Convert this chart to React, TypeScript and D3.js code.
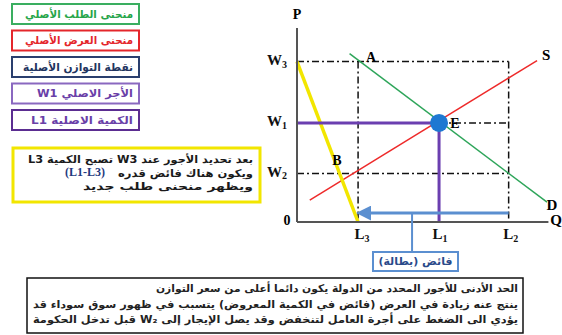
import React from "react";
import * as d3 from "d3";

// ---- data ----
const quantities = { L3: 2.15, L1: 5, L2: 7.45 };
const wages = { W3: 8.1, W1: 5, W2: 2.45 };
const demandPts: [number, number][] = [[1.85, 8.5], [8.8, 1.0]];
const supplyPts: [number, number][] = [[0.45, 1.1], [8.45, 8.15]];
const minWageLine: [number, number][] = [[0, 8.1], [2.15, 0]];
const surplusArrowY = 0.45;
const legendItems = [
  { text: "منحنى الطلب الأصلي", color: "#27a54a", border: "#3aae60", w: 108 },
  { text: "منحنى العرض الأصلي", color: "#e4262b", border: "#e4262b", w: 108 },
  { text: "نقطة التوازن الأصلية", color: "#1f3560", border: "#2a3f6e", w: 110 },
  { text: "الأجر الاصلي W1", color: "#6a3fa8", border: "#8a68c0", w: 96 },
  { text: "الكمية الاصلية L1", color: "#6a3fa8", border: "#5b2d91", w: 102 },
];
const noteLines = [
  "بعد تحديد الأجور عند W3 تصبح الكمية L3",
  "ويكون هناك فائض قدره",
  "ويظهر منحنى طلب جديد",
];
const noteWidths = [225, 135, 170];
const noteLatin = "(L1-L3)";
const bottomLines = [
  "الحد الأدنى للأجور المحدد من الدولة يكون دائما أعلى من سعر التوازن",
  "ينتج عنه زيادة في العرض (فائض في الكمية المعروض) يتسبب في ظهور سوق سوداء قد",
  "يؤدي الى الضغط على أجرة العامل لتنخفض وقد يصل الإيجار إلى W₂ قبل تدخل الحكومة",
];
const bottomWidths = [362, 485, 485];
const surplusLabel = "فائض (بطالة)";

const AR = "'DejaVu Sans', 'Noto Sans', sans-serif";
const SERIF = "'Liberation Serif', 'DejaVu Serif', serif";

export default function App() {
  const x = d3.scaleLinear().domain([0, 8.8]).range([297, 547]);
  const y = d3.scaleLinear().domain([0, 10.2]).range([222, 20]);
  const line = d3.line<[number, number]>().x((d) => x(d[0])).y((d) => y(d[1]));
  const x0 = x(0), y0 = y(0);
  const axisTop = y(9.8);
  const dash = "7,3,2,3";

  const Sub = ({ cx, cy, main, sub }: { cx: number; cy: number; main: string; sub: string }) => (
    <text x={cx} y={cy} fontFamily={SERIF} fontWeight="bold" fontSize={15} textAnchor="middle" dominantBaseline="middle" fill="#111">
      {main}
      <tspan fontSize={10} dy={4}>{sub}</tspan>
    </text>
  );

  return (
    <svg width={562} height={335} style={{ position: "absolute", left: 0, top: 0, background: "#fff" }}>
      <defs>
        <marker id="arrowhead" markerWidth="5" markerHeight="5" refX="1" refY="2.5" orient="auto-start-reverse" markerUnits="strokeWidth">
          <path d="M0,0 L5,2.5 L0,5 z" fill="#5b8fd0" />
        </marker>
      </defs>

      {/* legend boxes */}
      {legendItems.map((it, i) => {
        const top = 4 + i * 26.5;
        return (
          <g key={i}>
            <rect x={12} y={top} width={127} height={20} fill="#fff" stroke={it.border} strokeWidth={2} />
            <text x={133} y={top + 10.5} direction="rtl" textAnchor="start" dominantBaseline="middle" fontFamily={AR} fontWeight="bold" fontSize={11} fill={it.color} textLength={it.w} lengthAdjust="spacingAndGlyphs">
              {it.text}
            </text>
          </g>
        );
      })}

      {/* yellow note box */}
      <rect x={13} y={148} width={247} height={54} fill="#fff" stroke="#f2e600" strokeWidth={3} />
      {noteLines.map((t, i) => (
        <text key={i} x={253} y={160 + i * 13.5} direction="rtl" textAnchor="start" dominantBaseline="middle" fontFamily={AR} fontWeight="bold" fontSize={10.5} fill="#1a1a1a" textLength={noteWidths[i]} lengthAdjust="spacingAndGlyphs">
          {t}
        </text>
      ))}
      <text x={65} y={173.5} textAnchor="start" dominantBaseline="middle" fontFamily={SERIF} fontWeight="bold" fontSize={12} fill="#1f3a80">
        {noteLatin}
      </text>

      {/* dashed guides */}
      <line x1={x0} x2={x(quantities.L2)} y1={y(wages.W3)} y2={y(wages.W3)} stroke="#111" strokeWidth={1.5} strokeDasharray={dash} />
      <line x1={x(quantities.L3)} x2={x(quantities.L3)} y1={y(wages.W3)} y2={y0} stroke="#111" strokeWidth={1.5} strokeDasharray={dash} />
      <line x1={x(quantities.L2)} x2={x(quantities.L2)} y1={y(wages.W3)} y2={y0} stroke="#111" strokeWidth={1.5} strokeDasharray={dash} />
      <line x1={x(quantities.L1)} x2={x(quantities.L2)} y1={y(wages.W1)} y2={y(wages.W1)} stroke="#111" strokeWidth={1.5} strokeDasharray={dash} />
      <line x1={x0} x2={x(quantities.L2)} y1={y(wages.W2)} y2={y(wages.W2)} stroke="#111" strokeWidth={1.5} strokeDasharray={dash} />

      {/* curves */}
      <path d={line(demandPts) || ""} stroke="#2ea55a" strokeWidth={1.5} fill="none" />
      <path d={line(supplyPts) || ""} stroke="#ee2a2a" strokeWidth={1.5} fill="none" />
      <path d={line(minWageLine) || ""} stroke="#f2e600" strokeWidth={3.5} fill="none" />

      {/* equilibrium wage/quantity */}
      <line x1={x0} x2={x(quantities.L1)} y1={y(wages.W1)} y2={y(wages.W1)} stroke="#6b3fb0" strokeWidth={3} />
      <line x1={x(quantities.L1)} x2={x(quantities.L1)} y1={y(wages.W1)} y2={y0} stroke="#6b3fb0" strokeWidth={3} />

      {/* axes */}
      <line x1={x0} x2={x0} y1={axisTop} y2={y0} stroke="#555" strokeWidth={2} />
      <line x1={x0} x2={x(8.85)} y1={y0} y2={y0} stroke="#555" strokeWidth={2} />

      {/* equilibrium point */}
      <circle cx={x(quantities.L1)} cy={y(wages.W1)} r={9} fill="#1e78d2" />

      {/* surplus arrow */}
      <line x1={x(quantities.L2)} x2={x(quantities.L3) + 10} y1={y(surplusArrowY)} y2={y(surplusArrowY)} stroke="#5b8fd0" strokeWidth={3} markerEnd="url(#arrowhead)" />
      <line x1={x(4.05)} x2={x(4.05)} y1={y(surplusArrowY)} y2={252} stroke="#5b8fd0" strokeWidth={2} />
      <rect x={373} y={252} width={85} height={19} fill="#fff" stroke="#5b8fd0" strokeWidth={2} />
      <text x={415.5} y={262} textAnchor="middle" direction="rtl" dominantBaseline="middle" fontFamily={AR} fontWeight="bold" fontSize={11} fill="#2a4a8a">
        {surplusLabel}
      </text>

      {/* labels */}
      <text x={x0} y={16} textAnchor="middle" dominantBaseline="middle" fontFamily={SERIF} fontWeight="bold" fontSize={14}>P</text>
      <text x={556} y={y0} textAnchor="middle" dominantBaseline="middle" fontFamily={SERIF} fontWeight="bold" fontSize={15}>Q</text>
      <text x={287} y={y0} textAnchor="middle" dominantBaseline="middle" fontFamily={SERIF} fontWeight="bold" fontSize={14}>0</text>
      <Sub cx={277} cy={y(wages.W3)} main="W" sub="3" />
      <Sub cx={277} cy={y(wages.W1)} main="W" sub="1" />
      <Sub cx={277} cy={y(wages.W2)} main="W" sub="2" />
      <Sub cx={x(quantities.L3) + 4} cy={236} main="L" sub="3" />
      <Sub cx={x(quantities.L1) + 1} cy={236} main="L" sub="1" />
      <Sub cx={x(quantities.L2) + 2} cy={236} main="L" sub="2" />
      <text x={371} y={59} textAnchor="middle" dominantBaseline="middle" fontFamily={SERIF} fontWeight="bold" fontSize={14}>A</text>
      <text x={455} y={125} textAnchor="middle" dominantBaseline="middle" fontFamily={SERIF} fontWeight="bold" fontSize={14}>E</text>
      <text x={337} y={162} textAnchor="middle" dominantBaseline="middle" fontFamily={SERIF} fontWeight="bold" fontSize={14}>B</text>
      <text x={x(supplyPts[1][0]) + 9} y={y(supplyPts[1][1]) - 4} textAnchor="middle" dominantBaseline="middle" fontFamily={SERIF} fontWeight="bold" fontSize={15}>S</text>
      <text x={x(demandPts[1][0]) + 5} y={y(demandPts[1][1]) + 4} textAnchor="middle" dominantBaseline="middle" fontFamily={SERIF} fontWeight="bold" fontSize={15}>D</text>

      {/* bottom explanation box */}
      <rect x={27} y={278} width={496} height={55} fill="#fff" stroke="#111" strokeWidth={1.5} />
      {bottomLines.map((t, i) => (
        <text key={i} x={518} y={289 + i * 15.5} direction="rtl" textAnchor="start" dominantBaseline="middle" fontFamily={AR} fontWeight="bold" fontSize={10.5} fill="#222" textLength={bottomWidths[i]} lengthAdjust="spacingAndGlyphs">
          {t}
        </text>
      ))}
    </svg>
  );
}
